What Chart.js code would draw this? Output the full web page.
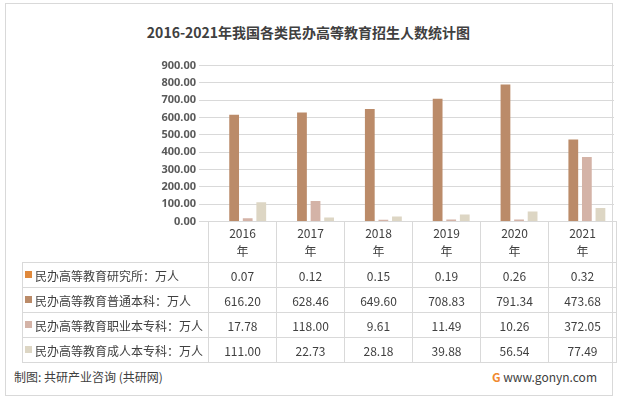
<!DOCTYPE html>
<html>
<head>
<meta charset="utf-8">
<script src="https://cdn.jsdelivr.net/npm/chart.js@4"></script>
<style>
  body { margin:0; width:617px; height:400px; background:#fff; font-family:"Noto Sans CJK SC","Noto Sans",sans-serif; position:relative; overflow:hidden; }
  #frame { position:absolute; left:5px; top:3px; width:606px; height:391px; border:1px solid #d9d9d9; }
  #title { position:absolute; left:0; top:22px; width:617px; text-align:center; font-size:14px; font-weight:bold; color:#404040; }
  #wrap { position:absolute; left:140px; top:56px; width:474px; height:175px; }
  table { position:absolute; left:22px; top:221px; border-collapse:collapse; font-size:12px; color:#404040; }
  td { border:1px solid #d9d9d9; text-align:center; height:24px; padding:0; }
  td.lab { text-align:left; width:183px; white-space:nowrap; padding-left:2px; }
  td.val { width:67px; }
  tr.head td { height:40px; line-height:18px; }
  tr.head td.blank { border:none; border-right:1px solid #d9d9d9; }
  .sw { display:inline-block; width:7px; height:7px; margin-right:3px; vertical-align:3px; }
  #src { position:absolute; left:14px; top:368px; font-size:12px; color:#404040; }
  #site { position:absolute; right:20px; top:368px; font-size:12px; color:#404040; }
</style>
</head>
<body>
<div id="frame"></div>
<div id="title">2016-2021年我国各类民办高等教育招生人数统计图</div>
<div id="wrap"><canvas id="c"></canvas></div>
<table id="tbl"></table>
<div id="src">制图: 共研产业咨询 (共研网)</div>
<div id="site"><span style="color:#f08a30;font-weight:bold">G</span> www.gonyn.com</div>
<script>
// categorías y series (万人)
const anios = ['2016年', '2017年', '2018年', '2019年', '2020年', '2021年'];
const nombres = ['民办高等教育研究所：万人', '民办高等教育普通本科：万人', '民办高等教育职业本专科：万人', '民办高等教育成人本专科：万人'];
const yanjiusuo = [0.07, 0.12, 0.15, 0.19, 0.26, 0.32];
const putongBenke = [616.20, 628.46, 649.60, 708.83, 791.34, 473.68];
const zhiyeBenzhuan = [17.78, 118.00, 9.61, 11.49, 10.26, 372.05];
const chengrenBenzhuan = [111.00, 22.73, 28.18, 39.88, 56.54, 77.49];
const colores = ['#e0893b', '#bb8b69', '#d4b3a7', '#ddd6c4'];

const series = [yanjiusuo, putongBenke, zhiyeBenzhuan, chengrenBenzhuan];

// tabla de datos debajo del gráfico
const tbl = document.getElementById('tbl');
let html = '<tr class="head"><td class="blank"></td>' +
  anios.map(a => '<td class="val">' + a.replace('年', '') + '<br>年</td>').join('') + '</tr>';
series.forEach((s, i) => {
  html += '<tr><td class="lab"><span class="sw" style="background:' + colores[i] + '"></span>' + nombres[i] + '</td>' +
    s.map(v => '<td class="val">' + v.toFixed(2) + '</td>').join('') + '</tr>';
});
tbl.innerHTML = html;

new Chart(document.getElementById('c'), {
  type: 'bar',
  data: {
    labels: anios,
    datasets: series.map((s, i) => ({
      label: nombres[i],
      data: s,
      backgroundColor: colores[i],
      categoryPercentage: 0.8,
      barPercentage: 0.72
    }))
  },
  options: {
    responsive: true,
    maintainAspectRatio: false,
    animation: false,
    layout: { padding: 0 },
    plugins: { legend: { display: false }, tooltip: { enabled: false } },
    scales: {
      x: { display: false },
      y: {
        min: 0, max: 900,
        afterFit: function(axis) { axis.width = 67; },
        border: { display: false },
        grid: { color: '#d9d9d9' },
        ticks: {
          stepSize: 100,
          color: '#595959',
          font: { size: 11, family: 'Noto Sans', weight: 'bold' },
          callback: function(v) { return v.toFixed(2); }
        }
      }
    }
  }
});
</script>
</body>
</html>
